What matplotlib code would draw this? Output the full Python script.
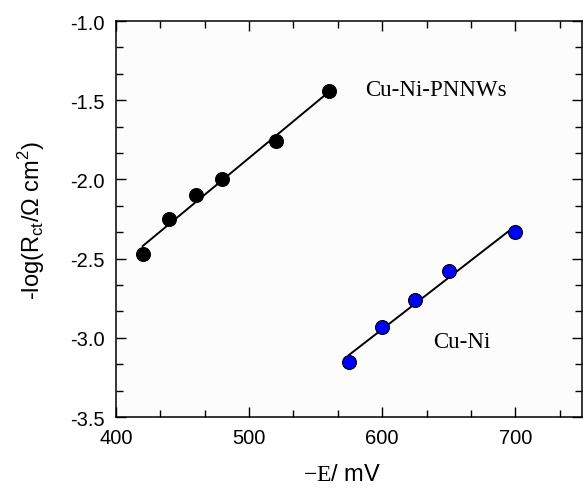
import numpy as np
import matplotlib
matplotlib.use("Agg")
import matplotlib.pyplot as plt
from matplotlib.ticker import MultipleLocator, AutoMinorLocator

plt.rcParams['font.family'] = ['Liberation Sans', 'DejaVu Sans']
plt.rcParams['mathtext.fontset'] = 'custom'
plt.rcParams['mathtext.rm'] = 'Liberation Serif'
plt.rcParams['mathtext.sf'] = 'Liberation Sans'

# Data
pnnw_x = [420, 440, 460, 480, 520, 560]
pnnw_y = [-2.47, -2.25, -2.10, -2.00, -1.76, -1.44]
cuni_x = [575, 600, 625, 650, 700]
cuni_y = [-3.15, -2.93, -2.76, -2.58, -2.33]
label_pnnw = "Cu-Ni-PNNWs"
label_cuni = "Cu-Ni"

fig = plt.figure(figsize=(5.83, 4.89), dpi=100)
fig.patch.set_facecolor('white')
ax = fig.add_axes([0.199, 0.145, 0.799, 0.810])
ax.set_facecolor('#fcfcfc')

for xs, ys, col in [(pnnw_x, pnnw_y, 'black'), (cuni_x, cuni_y, '#0000ff')]:
    xs = np.array(xs, float); ys = np.array(ys, float)
    m, b = np.polyfit(xs, ys, 1)
    ax.plot([xs.min(), xs.max()], [m * xs.min() + b, m * xs.max() + b], color='black', lw=1.4, zorder=2)
    ax.plot(xs, ys, 'o', color=col, mec='black', mew=0.8, ms=10, zorder=3)

ax.text(587, -1.434, label_pnnw, family='Liberation Serif', fontsize=16.5, va='center', ha='left')
ax.text(638, -3.025, label_cuni, family='Liberation Serif', fontsize=16.5, va='center', ha='left')

ax.set_xlim(400, 750)
ax.set_ylim(-3.5, -1.0)
ax.xaxis.set_major_locator(MultipleLocator(100))
ax.xaxis.set_minor_locator(AutoMinorLocator(3))
ax.yaxis.set_major_locator(MultipleLocator(0.5))
ax.yaxis.set_minor_locator(AutoMinorLocator(3))
ax.set_xticks([400, 500, 600, 700])
ax.tick_params(which='both', direction='in', top=True, right=True, labelsize=14.5, width=1)
ax.tick_params(which='major', length=7)
ax.tick_params(which='minor', length=5)
for s in ax.spines.values():
    s.set_linewidth(1.1)
ax.yaxis.set_major_formatter(matplotlib.ticker.FuncFormatter(lambda v, p: f"{v:.1f}"))
ax.tick_params(axis='x', pad=8)
ax.tick_params(axis='y', pad=8)

ax.set_xlabel(r'$-\mathrm{E}$/ mV', fontsize=17)
ax.set_ylabel(r'-log(R$_{\mathsf{ct}}$/Ω cm$^{\mathsf{2}}$)', fontsize=17, labelpad=17)
ax.xaxis.set_label_coords(0.485, -0.115)

fig.savefig('out.png', dpi=100)
